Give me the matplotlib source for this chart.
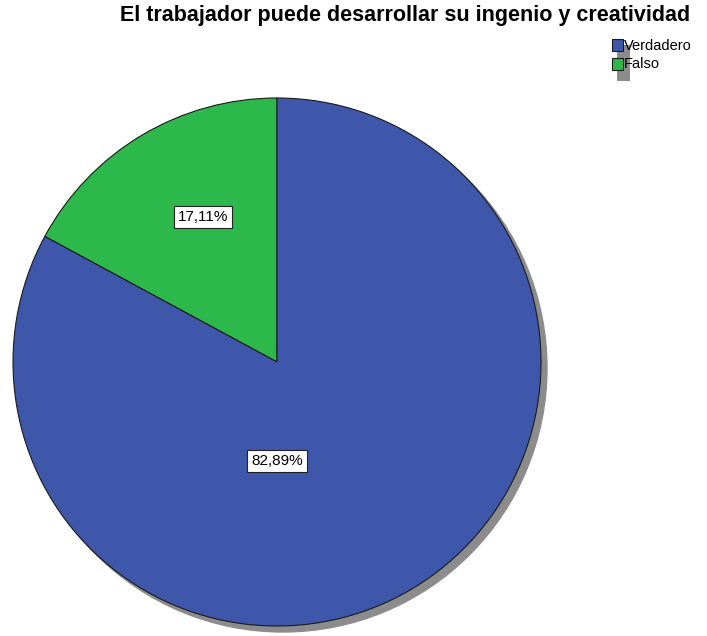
import matplotlib.pyplot as plt
from matplotlib.patches import Circle, Rectangle

# Datos del gráfico
categorias = ['Verdadero', 'Falso']
porcentajes = [82.89, 17.11]
colores = ['#3e57aa', '#2db84b']

W, H = 707, 636
fig = plt.figure(figsize=(W / 100, H / 100), dpi=100)
plt.rcParams['font.family'] = ['Liberation Sans', 'DejaVu Sans']

# ejes colocados en pixeles: centro (277, 362), radio 264
cx, cy, r = 277, 362, 264
ax = fig.add_axes([(cx - r) / W, (H - cy - r) / H, 2 * r / W, 2 * r / H])

# sombra
off = 6 / r
ax.add_patch(Circle((off, -off), 1, color='#8c8c8c', zorder=0, clip_on=False))

# Falso primero para que empiece arriba y gire a la izquierda
wedges, _ = ax.pie(porcentajes[::-1], colors=colores[::-1], startangle=90,
                   radius=1, wedgeprops=dict(edgecolor='#1a1a1a', linewidth=0.8),
                   frame=False)
for w in wedges:
    w.set_zorder(1)
    w.set_clip_on(False)

ax.set_xlim(-1, 1)
ax.set_ylim(-1, 1)
ax.set_aspect('equal')
ax.axis('off')

caja = dict(boxstyle='square,pad=0.25', facecolor='white', edgecolor='#222222', linewidth=0.8)
pos_etiquetas = [(0.0, -0.375), (-0.28, 0.55)]
for (x, y), p in zip(pos_etiquetas, porcentajes):
    ax.text(x, y, f'{p:.2f}%'.replace('.', ','), ha='center', va='center',
            fontsize=11, bbox=caja, zorder=3)

fig.text(405 / W, 1 - 16 / H, 'El trabajador puede desarrollar su ingenio y creatividad',
         ha='center', va='center', fontsize=15.5, fontweight='bold')

# leyenda manual
fig.patches.append(Rectangle((617 / W, 1 - 81 / H), 13 / W, 36 / H,
                             transform=fig.transFigure, facecolor='#8c8c8c',
                             edgecolor='none', zorder=0))
for i, (cat, col) in enumerate(zip(categorias, colores)):
    y0 = 39 + i * 18.5
    fig.patches.append(Rectangle((612 / W, 1 - (y0 + 12) / H), 11 / W, 12 / H,
                                 transform=fig.transFigure, facecolor=col,
                                 edgecolor='#1a1a1a', linewidth=0.8, zorder=1))
    fig.text(624 / W, 1 - (y0 + 7) / H, cat, ha='left', va='center', fontsize=10.5)

plt.savefig('out.png', dpi=100)
